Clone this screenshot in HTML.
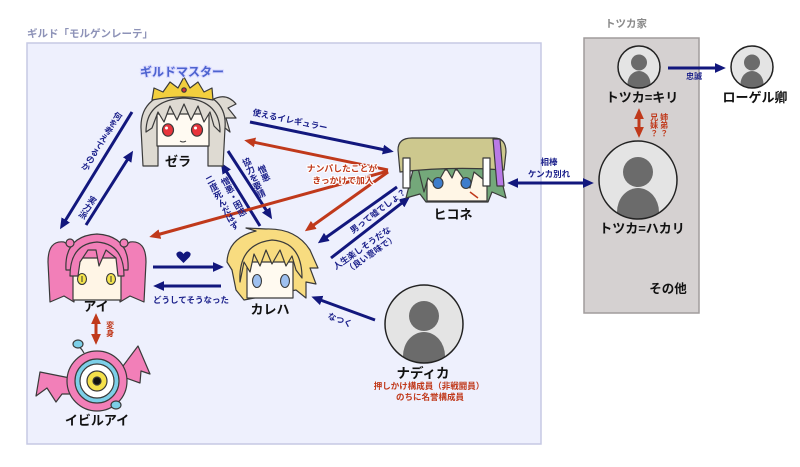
<!DOCTYPE html>
<html><head><meta charset="utf-8">
<style>
html,body{margin:0;padding:0;background:#fff;}
#w{position:relative;width:800px;height:467px;overflow:hidden;background:#fff;font-family:"Liberation Sans","Noto Sans CJK JP",sans-serif;}
svg{position:absolute;left:0;top:0;}
.v{position:absolute;writing-mode:vertical-rl;white-space:nowrap;font-size:8.5px;line-height:1.15;font-weight:bold;text-align:center;font-family:"Liberation Sans","Noto Sans CJK JP",sans-serif;}
</style></head><body><div id="w">
<svg width="800" height="467" viewBox="0 0 800 467" style='font-family:"Liberation Sans","Noto Sans CJK JP",sans-serif'>
<defs>
<marker id="mn" viewBox="0 0 10 10" refX="6.5" refY="5" markerWidth="11" markerHeight="11" markerUnits="userSpaceOnUse" orient="auto-start-reverse"><path d="M0,0.5 L10,5 L0,9.5 Z" fill="#12177d"/></marker>
<marker id="mr" viewBox="0 0 10 10" refX="6.5" refY="5" markerWidth="11" markerHeight="11" markerUnits="userSpaceOnUse" orient="auto-start-reverse"><path d="M0,0.5 L10,5 L0,9.5 Z" fill="#c0391b"/></marker>
<clipPath id="ck"><circle cx="639" cy="67" r="21"/></clipPath>
<clipPath id="cr"><circle cx="752" cy="67" r="21"/></clipPath>
<clipPath id="ch"><circle cx="638" cy="180" r="39"/></clipPath>
<clipPath id="cn"><circle cx="424" cy="324" r="39"/></clipPath>
</defs>

<!-- boxes -->
<text x="27" y="37" font-size="10.5" font-weight="bold" fill="#8e93b8">ギルド「モルゲンレーテ」</text>
<rect x="27" y="43" width="514" height="401" fill="#eef0fd" stroke="#c6c9e4" stroke-width="1.5"/>
<text x="605" y="27" font-size="10.5" font-weight="bold" fill="#8a8a8a">トツカ家</text>
<rect x="584" y="38" width="115" height="275" fill="#d5d1d1" stroke="#a09c9c" stroke-width="1.5"/>

<!-- navy arrows -->
<g stroke="#12177d" stroke-width="3" fill="none">
<line x1="132" y1="112" x2="62" y2="226" marker-end="url(#mn)"/>
<line x1="86" y1="225" x2="131" y2="154" marker-end="url(#mn)"/>
<line x1="250" y1="122" x2="390" y2="151" marker-end="url(#mn)"/>
<line x1="228" y1="151" x2="270" y2="216" marker-end="url(#mn)"/>
<line x1="260" y1="226" x2="223" y2="166" marker-end="url(#mn)"/>
<line x1="153" y1="267" x2="220" y2="267" marker-end="url(#mn)"/>
<line x1="221" y1="286" x2="157" y2="286" marker-end="url(#mn)"/>
<line x1="397" y1="187" x2="321" y2="241" marker-end="url(#mn)"/>
<line x1="331" y1="258" x2="407" y2="199" marker-end="url(#mn)"/>
<line x1="375" y1="320" x2="315" y2="298" marker-end="url(#mn)"/>
<line x1="511" y1="183" x2="590" y2="183" marker-start="url(#mn)" marker-end="url(#mn)"/>
<line x1="668" y1="68" x2="722" y2="68" marker-end="url(#mn)"/>
</g>
<!-- red arrows -->
<g stroke="#c0391b" stroke-width="3" fill="none">
<line x1="388" y1="170" x2="248" y2="141" marker-end="url(#mr)"/>
<line x1="388" y1="171" x2="153" y2="236" marker-end="url(#mr)"/>
<line x1="388" y1="172" x2="308" y2="229" marker-end="url(#mr)"/>
<line x1="639" y1="112" x2="639" y2="134" marker-start="url(#mr)" marker-end="url(#mr)"/>
<line x1="96" y1="317" x2="96" y2="341" marker-start="url(#mr)" marker-end="url(#mr)"/>
</g>

<!-- Zera -->
<g stroke="#3a3a3a" stroke-width="1.2" stroke-linejoin="round">
<path fill="#dedad2" d="M212,100 Q226,92 236,104 L228,108 L236,118 L226,118 L230,132 L220,124 L214,130 Z"/>
<path fill="#dedad2" d="M143,166 L141,128 Q140,94 184,90 Q228,94 225,128 L223,166 L208,166 L208,146 L158,146 L158,166 Z"/>
<path fill="#fffaf2" d="M157,114 L209,114 L209,146 L157,146 Z"/>
<path fill="#dedad2" d="M146,132 Q146,100 184,98 Q220,100 220,132 L214,126 L210,112 L204,122 L198,106 L191,120 L184,104 L177,120 L170,106 L164,122 L158,112 L152,128 Z"/>
<path fill="#f2cf3e" d="M152,100 L154,88 L163,92 L170,82 L178,88 L184,77 L190,88 L198,82 L204,92 L212,88 L213,100 Q183,94 152,100 Z"/>
<circle cx="184" cy="90" r="2.2" fill="#d2303a"/>
</g>
<ellipse cx="168" cy="130" rx="5.5" ry="6.2" fill="#e8343c" stroke="#3a3a3a" stroke-width="1.2"/>
<ellipse cx="197" cy="130" rx="5.5" ry="6.2" fill="#e8343c" stroke="#3a3a3a" stroke-width="1.2"/>
<circle cx="166.5" cy="128" r="1.5" fill="#fff"/><circle cx="195.5" cy="128" r="1.5" fill="#fff"/>
<path d="M180,141 Q183,143 186,141" stroke="#333" fill="none"/>
<text x="182" y="76" font-size="12" font-weight="bold" text-anchor="middle" fill="#4d63cf" stroke="#d8d8ff" stroke-width="2" paint-order="stroke">ギルドマスター</text>
<text x="178" y="166" font-size="13" font-weight="bold" text-anchor="middle" fill="#111">ゼラ</text>

<!-- Ai -->
<g stroke="#3a3a3a" stroke-width="1.2" stroke-linejoin="round">
<path fill="#f27fb8" d="M64,242 Q48,240 48,262 L50,302 L64,296 L74,302 L76,250 Z"/>
<path fill="#f27fb8" d="M130,242 Q146,240 146,262 L144,302 L130,296 L120,302 L118,250 Z"/>
<path fill="#f27fb8" d="M66,270 Q64,236 97,234 Q130,236 128,270 Z"/>
<rect fill="#fff5e6" x="73" y="258" width="48" height="42"/>
<path fill="#f27fb8" d="M70,276 Q70,244 97,242 Q124,244 124,276 L118,276 L116,258 L106,250 L99,266 L96,250 L88,250 L80,262 L78,276 Z"/>
<circle fill="#f27fb8" cx="70" cy="243" r="4"/><circle fill="#f27fb8" cx="124" cy="243" r="4"/>
</g>
<ellipse cx="82" cy="279" rx="4.5" ry="5.5" fill="#f5e44c" stroke="#3a3a3a" stroke-width="1.1"/>
<ellipse cx="111" cy="279" rx="4.5" ry="5.5" fill="#f5e44c" stroke="#3a3a3a" stroke-width="1.1"/>
<line x1="82" y1="276" x2="82" y2="282" stroke="#333"/><line x1="111" y1="276" x2="111" y2="282" stroke="#333"/>
<text x="96" y="311" font-size="13" font-weight="bold" text-anchor="middle" fill="#111">アイ</text>

<!-- heart -->
<path d="M183.5,263 L177.5,257 Q175,253.5 178,252 Q181,250.5 183.5,254 Q186,250.5 189,252 Q192,253.5 189.5,257 Z" fill="#12177d"/>

<!-- Karen -->
<g stroke="#3a3a3a" stroke-width="1.2" stroke-linejoin="round">
<path fill="#f8dc80" d="M244,300 L236,290 L232,270 L227,262 Q228,238 256,231 L246,228 L266,229 Q296,228 310,250 L318,268 L310,268 L316,284 L306,282 L306,298 L296,290 Z"/>
<rect fill="#fffaf0" x="247" y="262" width="46" height="36"/>
<path fill="#f8dc80" d="M240,282 Q238,244 272,240 Q302,242 302,278 L296,270 L292,256 L286,266 L280,250 L272,264 L266,250 L260,266 L254,254 L250,272 L244,262 Z"/>
</g>
<ellipse cx="257" cy="281" rx="4.5" ry="6.5" fill="#9ec0ef" stroke="#3a3a3a" stroke-width="1.1"/>
<ellipse cx="285" cy="281" rx="4.5" ry="6.5" fill="#9ec0ef" stroke="#3a3a3a" stroke-width="1.1"/>
<text x="270" y="314" font-size="13" font-weight="bold" text-anchor="middle" fill="#111">カレハ</text>

<!-- Hikone -->
<g stroke="#3a3a3a" stroke-width="1.2" stroke-linejoin="round">
<path fill="#74a87a" d="M414,166 L406,198 L420,194 L426,202 L488,202 L492,192 L506,198 L498,166 Z"/>
<rect fill="#fff6e6" x="427" y="170" width="60" height="31"/>
<path fill="#74a87a" d="M418,168 L424,192 L428,178 L436,186 L446,168 L452,178 L456,168 L470,188 L474,172 L484,180 L490,168 Z"/>
<path fill="#cdc88e" d="M398,150 Q398,138 412,138 L494,138 Q506,138 506,152 L504,170 Q452,166 400,172 Z"/>
<rect fill="#fff" x="403" y="158" width="7" height="30"/>
<rect fill="#fff" x="483" y="158" width="7" height="28"/>
<path fill="#b97ae6" d="M493,139 L500,139 L504,186 L497,186 Z"/>
</g>
<ellipse cx="438" cy="183" rx="5" ry="5.5" fill="#3e7dcc" stroke="#3a3a3a" stroke-width="1.1"/>
<ellipse cx="466" cy="183" rx="5" ry="5.5" fill="#3e7dcc" stroke="#3a3a3a" stroke-width="1.1"/>
<path d="M470,192 L478,198" stroke="#c0391b" stroke-width="1.5"/>
<text x="453" y="219" font-size="13" font-weight="bold" text-anchor="middle" fill="#111">ヒコネ</text>

<!-- Evil eye -->
<g stroke="#3a3a3a" stroke-width="1.2" stroke-linejoin="round">
<path fill="#f27fb8" d="M70,378 L40,372 L36,396 L47,388 L56,402 L62,394 L74,394 Z"/>
<path fill="#f27fb8" d="M120,370 L138,346 L150,374 L141,371 L140,383 L126,378 Z"/>
<path fill="none" d="M84,353 Q80,346 76,345"/>
<path fill="none" d="M110,406 Q114,410 116,405"/>
<circle cx="97" cy="381" r="30" fill="#f27fb8"/>
<circle cx="97" cy="381" r="22" fill="#7ccfe8"/>
<circle cx="97" cy="381" r="17" fill="#fff"/>
<circle cx="97" cy="381" r="10" fill="#f4e04a"/>
<circle cx="97" cy="381" r="4" fill="#111"/>
<ellipse cx="78" cy="344" rx="5" ry="4" fill="#7ccfe8"/>
<ellipse cx="116" cy="405" rx="5" ry="4" fill="#7ccfe8"/>
</g>
<text x="97" y="425" font-size="13" font-weight="bold" text-anchor="middle" fill="#111">イビルアイ</text>

<!-- person circles -->
<g>
<circle cx="639" cy="67" r="21" fill="#e4e4e4"/>
<g clip-path="url(#ck)" fill="#6b6b6b"><circle cx="639" cy="62.5" r="8"/><ellipse cx="639" cy="84" rx="11.5" ry="13"/></g>
<circle cx="639" cy="67" r="21" fill="none" stroke="#222" stroke-width="1.5"/>
<circle cx="752" cy="67" r="21" fill="#e4e4e4"/>
<g clip-path="url(#cr)" fill="#6b6b6b"><circle cx="752" cy="62.5" r="8"/><ellipse cx="752" cy="84" rx="11.5" ry="13"/></g>
<circle cx="752" cy="67" r="21" fill="none" stroke="#222" stroke-width="1.5"/>
<circle cx="638" cy="180" r="39" fill="#e4e4e4"/>
<g clip-path="url(#ch)" fill="#6b6b6b"><circle cx="638" cy="172" r="15"/><ellipse cx="638" cy="212" rx="21" ry="24"/></g>
<circle cx="638" cy="180" r="39" fill="none" stroke="#222" stroke-width="1.5"/>
<circle cx="424" cy="324" r="39" fill="#e4e4e4"/>
<g clip-path="url(#cn)" fill="#6b6b6b"><circle cx="424" cy="316" r="15"/><ellipse cx="424" cy="356" rx="21" ry="24"/></g>
<circle cx="424" cy="324" r="39" fill="none" stroke="#222" stroke-width="1.5"/>
</g>
<text x="642" y="102" font-size="13" font-weight="bold" text-anchor="middle" fill="#111">トツカ=キリ</text>
<text x="755" y="102" font-size="13" font-weight="bold" text-anchor="middle" fill="#111">ローゲル卿</text>
<text x="642" y="233" font-size="13" font-weight="bold" text-anchor="middle" fill="#111">トツカ=ハカリ</text>
<text x="668" y="293" font-size="12.5" font-weight="bold" text-anchor="middle" fill="#111">その他</text>
<text x="423" y="378" font-size="13.5" font-weight="bold" text-anchor="middle" fill="#111">ナディカ</text>
<text x="429" y="389" font-size="8.5" font-weight="bold" text-anchor="middle" fill="#c0391b">押しかけ構成員（非戦闘員）</text>
<text x="430" y="400" font-size="8.5" font-weight="bold" text-anchor="middle" fill="#c0391b">のちに名誉構成員</text>

<!-- arrow labels -->
<g font-size="8.5" font-weight="bold" fill="#1a1f8a">
<text x="191" y="303" text-anchor="middle">どうしてそうなった</text>
<text x="549" y="165" text-anchor="middle">相棒</text>
<text x="549" y="177" text-anchor="middle">ケンカ別れ</text>
<text x="694" y="79" text-anchor="middle" font-size="8">忠誠</text>
<g transform="translate(290,120) rotate(12)"><text x="0" y="3" text-anchor="middle" stroke="#eef0fd" stroke-width="2" paint-order="stroke">使えるイレギュラー</text></g>
<g transform="translate(378,211) rotate(-37)"><text x="0" y="3" text-anchor="middle" stroke="#eef0fd" stroke-width="2" paint-order="stroke">男って嘘でしょ？</text></g>
<g transform="translate(362,248) rotate(-35)"><text x="0" y="3" text-anchor="middle" stroke="#eef0fd" stroke-width="2" paint-order="stroke">人生楽しそうだな</text><text x="4" y="13" text-anchor="middle" stroke="#eef0fd" stroke-width="2" paint-order="stroke">（良い意味で）</text></g>
<g transform="translate(340,320) rotate(21)"><text x="0" y="3" text-anchor="middle">なつく</text></g>
</g>
<g font-size="8.8" font-weight="bold" fill="#c0391b" stroke="#fff" stroke-width="2.2" paint-order="stroke">
<text x="342" y="171.5" text-anchor="middle">ナンパしたことが</text>
<text x="343" y="183.5" text-anchor="middle">きっかけで加入</text>
</g>
</svg>

<div class="v" style="left:101px;top:141px;transform:translate(-50%,-50%) rotate(32deg);color:#1a1f8a">何を考えてるのか</div>
<div class="v" style="left:87px;top:207px;transform:translate(-50%,-50%) rotate(32deg);color:#1a1f8a">実力派</div>
<div class="v" style="left:258px;top:176px;line-height:11px;font-size:8.7px;transform:translate(-50%,-50%) rotate(-24deg);color:#1a1f8a">憎悪<br>協力を要請</div>
<div class="v" style="left:226.5px;top:200px;line-height:12.8px;font-size:8.7px;transform:translate(-50%,-50%) rotate(-28deg);color:#1a1f8a">憎悪・困惑<br>二度死んだはず</div>
<div class="v" style="left:654px;top:125px;transform:translate(-50%,-50%);color:#c0391b;font-size:8px">兄妹？</div>
<div class="v" style="left:664px;top:125px;transform:translate(-50%,-50%);color:#c0391b;font-size:8px">姉弟？</div>
<div class="v" style="left:110px;top:329px;transform:translate(-50%,-50%);color:#c0391b;font-size:8px">変身</div>
</div></body></html>
